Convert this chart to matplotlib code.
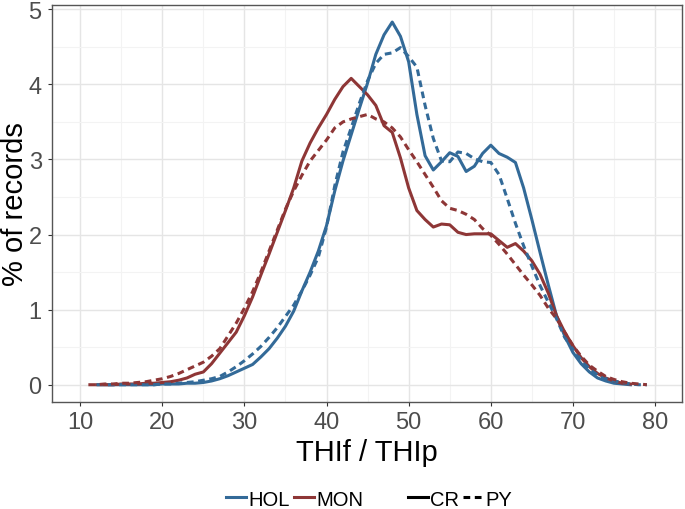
import numpy as np
import matplotlib
matplotlib.use("Agg")
import matplotlib.pyplot as plt
from matplotlib.lines import Line2D

plt.rcParams['font.family'] = ['Liberation Sans', 'DejaVu Sans']

nan = np.nan

# THI values (x axis), one bin per unit
thi = list(range(11, 80))

# HOL, CR (solid blue)
hol_cr = [nan, nan, 0.0, 0.0, 0.0, 0.0, 0.0, 0.0, 0.0,
          0.01, 0.01, 0.01, 0.02, 0.02, 0.03, 0.05, 0.08, 0.12, 0.17,
          0.22, 0.27, 0.37, 0.48, 0.62, 0.78, 0.98, 1.25, 1.50, 1.78,
          2.12, 2.58, 2.98, 3.33, 3.68, 4.02, 4.40, 4.66, 4.83, 4.64,
          4.30, 3.60, 3.05, 2.86, 2.97, 3.09, 3.04, 2.84, 2.91, 3.08,
          3.19, 3.08, 3.03, 2.96, 2.62, 2.20, 1.76, 1.33, 0.92, 0.65,
          0.43, 0.28, 0.17, 0.09, 0.05, 0.02, 0.01, 0.0, nan, nan]

# HOL, PY (dashed blue)
hol_py = [nan, 0.0, 0.0, 0.0, 0.0, 0.0, 0.0, 0.0, 0.0,
          0.01, 0.01, 0.02, 0.03, 0.04, 0.06, 0.08, 0.11, 0.17, 0.24,
          0.32, 0.41, 0.51, 0.63, 0.76, 0.91, 1.06, 1.25, 1.46, 1.70,
          2.10, 2.65, 3.10, 3.42, 3.75, 4.05, 4.28, 4.40, 4.42, 4.49,
          4.37, 4.23, 3.72, 3.28, 2.98, 2.97, 3.10, 3.08, 3.01, 2.97,
          2.96, 2.80, 2.48, 2.15, 1.85, 1.58, 1.32, 1.10, 0.88, 0.63,
          0.47, 0.33, 0.21, 0.13, 0.08, 0.05, 0.03, 0.01, 0.0, 0.0]

# MON, CR (solid red)
mon_cr = [nan, 0.0, 0.0, 0.0, 0.01, 0.01, 0.01, 0.02, 0.02,
          0.03, 0.04, 0.06, 0.09, 0.14, 0.17, 0.28, 0.42, 0.56, 0.70,
          0.92, 1.17, 1.46, 1.74, 2.03, 2.32, 2.62, 2.98, 3.22, 3.42,
          3.60, 3.80, 3.97, 4.08, 3.97, 3.86, 3.72, 3.45, 3.36, 3.02,
          2.62, 2.32, 2.20, 2.10, 2.14, 2.13, 2.03, 2.00, 2.01, 2.01,
          2.01, 1.92, 1.83, 1.88, 1.78, 1.65, 1.47, 1.22, 0.92, 0.70,
          0.52, 0.36, 0.24, 0.15, 0.09, 0.05, 0.02, 0.01, nan, nan]

# MON, PY (dashed red)
mon_py = [0.0, 0.0, 0.01, 0.01, 0.02, 0.02, 0.03, 0.04, 0.06,
          0.08, 0.11, 0.15, 0.20, 0.25, 0.30, 0.38, 0.48, 0.65, 0.82,
          1.02, 1.24, 1.50, 1.78, 2.06, 2.34, 2.58, 2.79, 2.98, 3.12,
          3.26, 3.42, 3.50, 3.54, 3.57, 3.60, 3.54, 3.50, 3.42, 3.30,
          3.13, 2.97, 2.80, 2.63, 2.45, 2.35, 2.32, 2.27, 2.20, 2.08,
          1.99, 1.87, 1.74, 1.60, 1.46, 1.33, 1.19, 1.02, 0.88, 0.70,
          0.52, 0.38, 0.26, 0.18, 0.11, 0.07, 0.04, 0.02, 0.01, 0.0]

blue = '#336a98'
red = '#8e3636'
dash = (2.2, 1.5)
lw = 2.2

fig = plt.figure(figsize=(6.85, 5.1), dpi=100)
ax = fig.add_axes([0.0759, 0.2098, 0.9197, 0.7784])

ax.plot(thi, hol_cr, color=blue, lw=lw)
ax.plot(thi, mon_cr, color=red, lw=lw)
ax.plot(thi, hol_py, color=blue, lw=lw, dashes=dash)
ax.plot(thi, mon_py, color=red, lw=lw, dashes=dash)

ax.set_xlim(6.57, 83.28)
ax.set_ylim(-0.23, 5.057)
ax.set_xticks(range(10, 81, 10))
ax.set_yticks(range(0, 6))
ax.set_xticks(np.arange(15, 80, 10), minor=True)
ax.set_yticks(np.arange(0.5, 5, 1), minor=True)
ax.grid(which='major', color='#e5e5e5', lw=1.0)
ax.grid(which='minor', color='#f3f3f3', lw=0.8)
ax.set_axisbelow(True)
ax.tick_params(which='minor', length=0)
ax.tick_params(which='major', length=2.8, color='#333333', width=0.8,
               labelsize=17, labelcolor='#4d4d4d')
ax.tick_params(axis='x', pad=3.8)
ax.tick_params(axis='y', pad=4.6)
for s in ax.spines.values():
    s.set_color('#555555')
    s.set_linewidth(1.0)

ax.set_xlabel('THIf / THIp', fontsize=21, va='baseline')
ax.xaxis.set_label_coords(0.5, -0.1453)
ax.set_ylabel('% of records', fontsize=21, va='baseline', rotation_mode='anchor')
ax.yaxis.set_label_coords(-0.0456, 0.5)

h1 = [Line2D([], [], color=blue, lw=lw), Line2D([], [], color=red, lw=lw)]
h2 = [Line2D([], [], color='black', lw=lw), Line2D([], [], color='black', lw=lw, dashes=dash)]
fig.legend(h1, ['HOL', 'MON'], loc='center', bbox_to_anchor=(0.430, 0.0196), ncol=2,
           frameon=False, fontsize=14.5, handlelength=1.0, handletextpad=0.1,
           columnspacing=0.2, borderpad=0, borderaxespad=0)
fig.legend(h2, ['CR', 'PY'], loc='center', bbox_to_anchor=(0.671, 0.0196), ncol=2,
           frameon=False, fontsize=14.5, handlelength=1.0, handletextpad=0.1,
           columnspacing=0.2, borderpad=0, borderaxespad=0)

fig.savefig('out.png', dpi=100)
